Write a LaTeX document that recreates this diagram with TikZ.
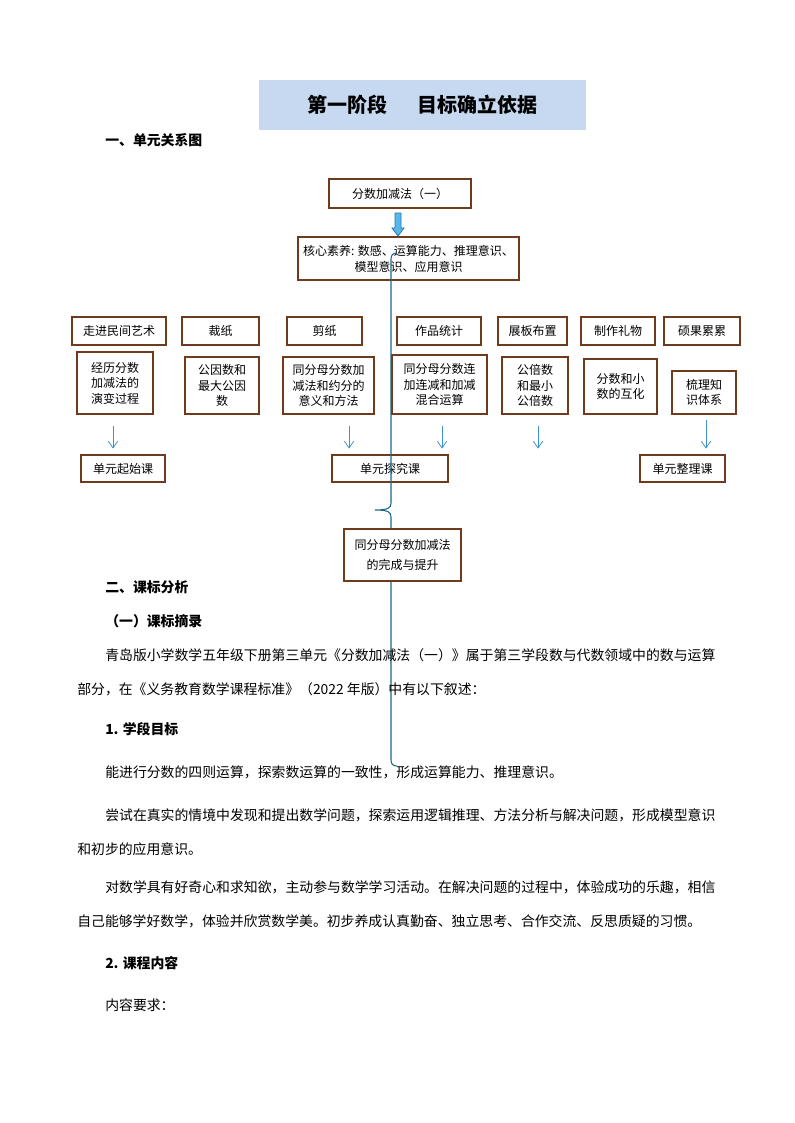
\documentclass[tikz,border=0pt]{standalone}
\usepackage{fontspec}
\setmainfont{Noto Sans CJK SC}
\usetikzlibrary{arrows.meta}
\definecolor{boxline}{RGB}{112,58,28}
\definecolor{titlefill}{RGB}{198,217,241}
\definecolor{arrowblue}{RGB}{62,150,200}
\definecolor{arrowfill}{RGB}{86,184,232}
\definecolor{arrowline}{RGB}{40,120,180}
\definecolor{bracecol}{RGB}{30,102,135}
\begin{document}
\begin{tikzpicture}[x=0.75pt,y=-0.75pt,
  box/.style={draw=boxline, fill=white, line width=0.9pt, inner sep=1pt, align=center, font=\fontsize{9pt}{11.6pt}\selectfont},
  smallarrow/.style={draw=arrowblue, line width=0.6pt, -{Straight Barb[length=5pt,width=7pt]}},
  body/.style={anchor=west, inner sep=0pt, font=\fontsize{10.4pt}{12pt}\selectfont},
  head/.style={body, font=\fontsize{10.4pt}{12pt}\selectfont\bfseries}]
\fill[white] (0,0) rectangle (794,1123);
\useasboundingbox (0,0) rectangle (794,1123);
\node[fill=titlefill, minimum width=245.25pt, minimum height=37.5pt, font=\fontsize{15pt}{18pt}\selectfont\bfseries] (title) at (422.5,105) {第一阶段\hspace{1.5em}目标确立依据};
\node[head] (h1) at (105,140) {一、单元关系图};
\node[box, minimum width=106.5pt, minimum height=21.75pt] (unit) at (400,193.5) {分数加减法（一）};
\node[box, minimum width=165.75pt, minimum height=32.25pt, font=\fontsize{9pt}{12pt}\selectfont] (core) at (408.5,258.5) {核心素养: 数感、运算能力、推理意识、\\模型意识、应用意识};
\draw[arrowline, fill=arrowfill, line width=0.6pt] (395,213) -- (401,213) -- (401,228) -- (404,228) -- (398,236) -- (392,228) -- (395,228) -- cycle;
% activities
\node[box, minimum width=70.5pt, minimum height=21pt] (t1) at (119,331) {走进民间艺术};
\node[box, minimum width=57.75pt, minimum height=21pt] (t2) at (220.5,331) {裁纸};
\node[box, minimum width=56.25pt, minimum height=21pt] (t3) at (324.5,331) {剪纸};
\node[box, minimum width=63pt, minimum height=21pt] (t4) at (439,331) {作品统计};
\node[box, minimum width=51.75pt, minimum height=21pt] (t5) at (532.5,331) {展板布置};
\node[box, minimum width=55.5pt, minimum height=21pt] (t6) at (618,331) {制作礼物};
\node[box, minimum width=57pt, minimum height=21pt] (t7) at (702,331) {硕果累累};
% contents
\node[box, minimum width=57pt, minimum height=46.5pt] (b1) at (115,383) {经历分数\\加减法的\\演变过程};
\node[box, minimum width=55.5pt, minimum height=42.75pt] (b2) at (222,385.5) {公因数和\\最大公因\\数};
\node[box, minimum width=68.25pt, minimum height=42.75pt] (b3) at (328.5,385.5) {同分母分数加\\减法和约分的\\意义和方法};
\node[box, minimum width=71.25pt, minimum height=44.25pt] (b4) at (439.5,384.5) {同分母分数连\\加连减和加减\\混合运算};
\node[box, minimum width=49.5pt, minimum height=42.75pt] (b5) at (535,385.5) {公倍数\\和最小\\公倍数};
\node[box, minimum width=54.75pt, minimum height=41.25pt] (b6) at (620.5,386.5) {分数和小\\数的互化};
\node[box, minimum width=48pt, minimum height=32.25pt] (b7) at (704,392.5) {梳理知\\识体系};
% lessons
\node[box, minimum width=63pt, minimum height=20.25pt] (l1) at (123,468.5) {单元起始课};
\node[box, minimum width=87pt, minimum height=20.25pt] (l2) at (390,468.5) {单元探究课};
\node[box, minimum width=63.75pt, minimum height=20.25pt] (l3) at (682.5,468.5) {单元整理课};
\draw[smallarrow] ([xshift=-1.5pt]b1.south) ++(0,11) -- ++(0,23);
\draw[smallarrow] ([xshift=15.4pt]b3.south) ++(0,11) -- ++(0,23);
\draw[smallarrow] ([xshift=1.9pt]b4.south) ++(0,11) -- ++(0,23);
\draw[smallarrow] ([xshift=2.25pt]b5.south) ++(0,11) -- ++(0,23);
\draw[smallarrow] ([xshift=1.5pt]b7.south) ++(0,5) -- ++(0,29);
% brace
\draw[bracecol, line width=0.8pt] (397,253) .. controls (393,253) and (391,255) .. (391,259)
  -- (391,503) .. controls (391,508) and (388,510) .. (375,510)
  .. controls (388,510) and (391,512) .. (391,517)
  -- (391,760) .. controls (391,764) and (393,766) .. (397,766);
\node[box, minimum width=87.75pt, minimum height=39pt, font=\fontsize{9pt}{15pt}\selectfont] (final) at (402.5,555) {同分母分数加减法\\的完成与提升};
% text
\node[head] (h2) at (105,587) {二、课标分析};
\node[head] (h3) at (105,621) {（一）课标摘录};
\node[body] (p1) at (105,655) {青岛版小学数学五年级下册第三单元《分数加减法（一）》属于第三学段数与代数领域中的数与运算};
\node[body] (p2) at (77,689) {部分，在《义务教育数学课程标准》（2022 年版）中有以下叙述：};
\node[head] (h4) at (105,729) {1. 学段目标};
\node[body] (p3) at (105,772) {能进行分数的四则运算，探索数运算的一致性，形成运算能力、推理意识。};
\node[body] (p4) at (105,815) {尝试在真实的情境中发现和提出数学问题，探索运用逻辑推理、方法分析与解决问题，形成模型意识};
\node[body] (p5) at (77,849) {和初步的应用意识。};
\node[body] (p6) at (105,887) {对数学具有好奇心和求知欲，主动参与数学学习活动。在解决问题的过程中，体验成功的乐趣，相信};
\node[body] (p7) at (77,921) {自己能够学好数学，体验并欣赏数学美。初步养成认真勤奋、独立思考、合作交流、反思质疑的习惯。};
\node[head] (h5) at (105,963) {2. 课程内容};
\node[body] (p8) at (105,1005) {内容要求：};
\end{tikzpicture}
\end{document}
